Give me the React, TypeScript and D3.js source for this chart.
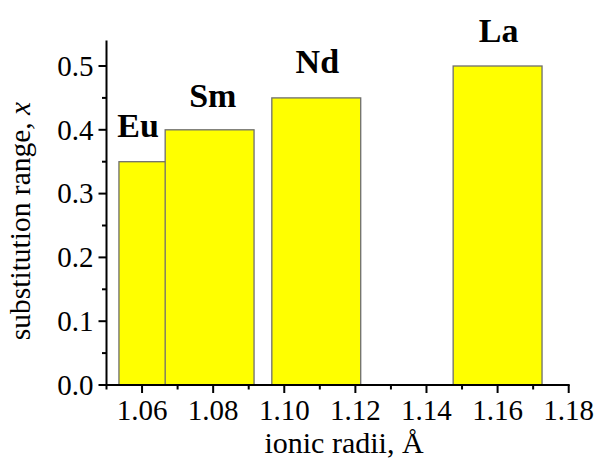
import React from "react";
import * as d3 from "d3";

const elements = ["Eu", "Sm", "Nd", "La"];
const radii = [1.066, 1.079, 1.109, 1.16];
const ranges = [0.35, 0.4, 0.45, 0.5];
const labelX = [1.0589, 1.0799, 1.1093, 1.1603];
const labelY = [0.389, 0.436, 0.489, 0.538];
const barWidth = 0.025;
const xTicks = [1.06, 1.08, 1.1, 1.12, 1.14, 1.16, 1.18];
const xMinor = [1.05, 1.07, 1.09, 1.11, 1.13, 1.15, 1.17];
const yTicks = [0, 0.1, 0.2, 0.3, 0.4, 0.5];
const yMinor = [0.05, 0.15, 0.25, 0.35, 0.45];

const W = 598;
const H = 458;
const left = 106.5;
const right = 568.7;
const bottom = 385;

export default function App() {
  const x = d3.scaleLinear().domain([1.05, 1.18]).range([left, right]);
  const y = d3.scaleLinear().domain([0, 0.5]).range([bottom, 66]);
  const font = "'Liberation Serif', 'Times New Roman', serif";
  return (
    <svg width={W} height={H} style={{ position: "absolute", left: 0, top: 0 }} fontFamily={font}>
      <rect width={W} height={H} fill="#fff" />
      {radii.map((r, i) => (
        <rect
          key={elements[i]}
          x={x(r - barWidth / 2)}
          y={y(ranges[i])}
          width={x(r + barWidth / 2) - x(r - barWidth / 2)}
          height={y(0) - y(ranges[i])}
          fill="#ffff00"
          stroke="#6e6e6e"
          strokeWidth={1.3}
        />
      ))}
      {elements.map((e, i) => (
        <text key={e} x={x(labelX[i])} y={y(labelY[i])} textAnchor="middle" fontWeight="bold" fontSize={34} fill="#000">
          {e}
        </text>
      ))}
      {/* axes */}
      <line x1={left} x2={left} y1={y(0.54)} y2={bottom + 1} stroke="#000" strokeWidth={2} />
      <line x1={left - 1} x2={right + 1} y1={bottom} y2={bottom} stroke="#000" strokeWidth={2} />
      {yTicks.map((t) => (
        <g key={"y" + t}>
          <line x1={left - 8} x2={left} y1={y(t)} y2={y(t)} stroke="#000" strokeWidth={2} />
          <text x={left - 13} y={y(t)} dy="0.34em" textAnchor="end" fontSize={29} fill="#000">
            {d3.format(".1f")(t)}
          </text>
        </g>
      ))}
      {yMinor.map((t) => (
        <line key={"ym" + t} x1={left - 4.5} x2={left} y1={y(t)} y2={y(t)} stroke="#000" strokeWidth={2} />
      ))}
      {xTicks.map((t) => (
        <g key={"x" + t}>
          <line x1={x(t)} x2={x(t)} y1={bottom} y2={bottom + 8} stroke="#000" strokeWidth={2} />
          <text x={x(t)} y={420} textAnchor="middle" fontSize={29} fill="#000">
            {d3.format(".2f")(t)}
          </text>
        </g>
      ))}
      {xMinor.map((t) => (
        <line key={"xm" + t} x1={x(t)} x2={x(t)} y1={bottom} y2={bottom + 4.5} stroke="#000" strokeWidth={2} />
      ))}
      <text x={344} y={453} textAnchor="middle" fontSize={30} fill="#000">
        ionic radii, Å
      </text>
      <text transform={`translate(30,221) rotate(-90)`} textAnchor="middle" fontSize={29.5} fill="#000">
        substitution range, <tspan fontStyle="italic">x</tspan>
      </text>
    </svg>
  );
}
